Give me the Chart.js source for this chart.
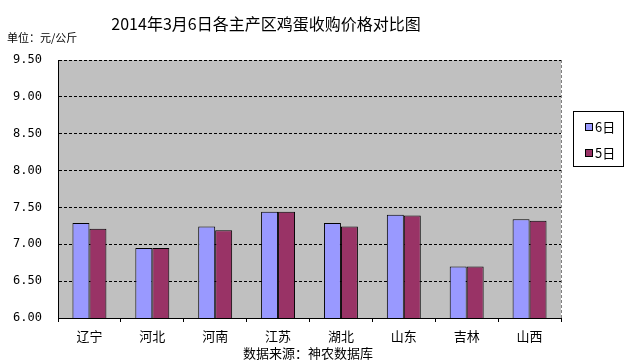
<!DOCTYPE html>
<html>
<head>
<meta charset="utf-8">
<script src="https://cdn.jsdelivr.net/npm/chart.js@4"></script>
<style>
  html, body { margin: 0; padding: 0; background: #fff; }
  #wrap { width: 629px; height: 363px; position: relative; }
</style>
</head>
<body>
<div id="wrap"><canvas id="c" width="629" height="363"></canvas></div>
<script>
const regions = ['辽宁', '河北', '河南', '江苏', '湖北', '山东', '吉林', '山西'];
const day6 = [7.29, 6.95, 7.24, 7.44, 7.29, 7.40, 6.70, 7.34];
const day5 = [7.21, 6.95, 7.19, 7.44, 7.24, 7.39, 6.70, 7.32];
const seriesNames = ['6日', '5日'];
const titleText = '2014年3月6日各主产区鸡蛋收购价格对比图';
const unitText = '单位：元/公斤';
const sourceText = '数据来源：神农数据库';

const cjk = '"Noto Sans CJK SC", sans-serif';

// background, right dashed border, texts and legend
const decor = {
  id: 'decor',
  beforeDraw(chart) {
    const { ctx, chartArea: a } = chart;
    ctx.save();
    ctx.fillStyle = '#c0c0c0';
    ctx.fillRect(a.left, a.top, a.right - a.left, a.bottom - a.top);
    ctx.restore();
  },
  afterDraw(chart) {
    const { ctx, chartArea: a } = chart;
    ctx.save();
    // dashed right border
    ctx.strokeStyle = '#808080';
    ctx.lineWidth = 1;
    ctx.setLineDash([3, 2]);
    ctx.beginPath();
    ctx.moveTo(a.right + 0.5, a.top);
    ctx.lineTo(a.right + 0.5, a.bottom);
    ctx.stroke();
    ctx.setLineDash([]);

    // texts
    ctx.fillStyle = '#000';
    ctx.textBaseline = 'middle';
    ctx.textAlign = 'center';
    ctx.font = '16px ' + cjk;
    ctx.fillText(titleText, 266, 24);
    ctx.textAlign = 'left';
    ctx.font = '11px ' + cjk;
    ctx.fillText(unitText, 7, 38);
    ctx.textAlign = 'center';
    ctx.font = '13px ' + cjk;
    ctx.fillText(sourceText, 308, 353);

    // legend
    ctx.fillStyle = '#fff';
    ctx.fillRect(573, 111, 50, 55);
    ctx.strokeStyle = '#000';
    ctx.strokeRect(573.5, 111.5, 50, 55);
    chart.data.datasets.forEach((ds, i) => {
      const y = 127 + i * 26;
      ctx.fillStyle = ds.backgroundColor;
      ctx.fillRect(585, y - 4, 8, 8);
      ctx.strokeStyle = '#000';
      ctx.strokeRect(585.5, y - 3.5, 7, 7);
      ctx.fillStyle = '#000';
      ctx.textAlign = 'left';
      ctx.font = '13px ' + cjk;
      ctx.fillText(ds.label, 595, y);
    });
    ctx.restore();
  }
};

new Chart(document.getElementById('c'), {
  type: 'bar',
  data: {
    labels: regions,
    datasets: [
      { label: seriesNames[0], data: day6, backgroundColor: '#9999ff', borderColor: '#000', borderWidth: 1 },
      { label: seriesNames[1], data: day5, backgroundColor: '#993366', borderColor: '#000', borderWidth: 1 }
    ]
  },
  options: {
    responsive: false,
    animation: false,
    layout: { padding: { left: 0, top: 60, right: 68, bottom: 0 } },
    plugins: { legend: { display: false }, tooltip: { enabled: false } },
    datasets: { bar: { categoryPercentage: 0.54, barPercentage: 1 } },
    scales: {
      x: {
        afterFit: s => { s.height = 45; },
        grid: { offset: true, drawOnChartArea: false, color: '#000', tickLength: 4 },
        border: { color: '#000', width: 1 },
        ticks: { color: '#000', padding: 6, font: { family: cjk, size: 13 } }
      },
      y: {
        min: 6, max: 9.5,
        afterFit: s => { s.width = 58; },
        grid: { color: '#000', drawTicks: false },
        border: { color: '#000', width: 1, dash: [3, 2] },
        ticks: {
          stepSize: 0.5, color: '#000', padding: 16,
          font: { family: '"DejaVu Sans Mono", monospace', size: 12 },
          callback: v => v.toFixed(2)
        }
      }
    }
  },
  plugins: [decor]
});
</script>
</body>
</html>
